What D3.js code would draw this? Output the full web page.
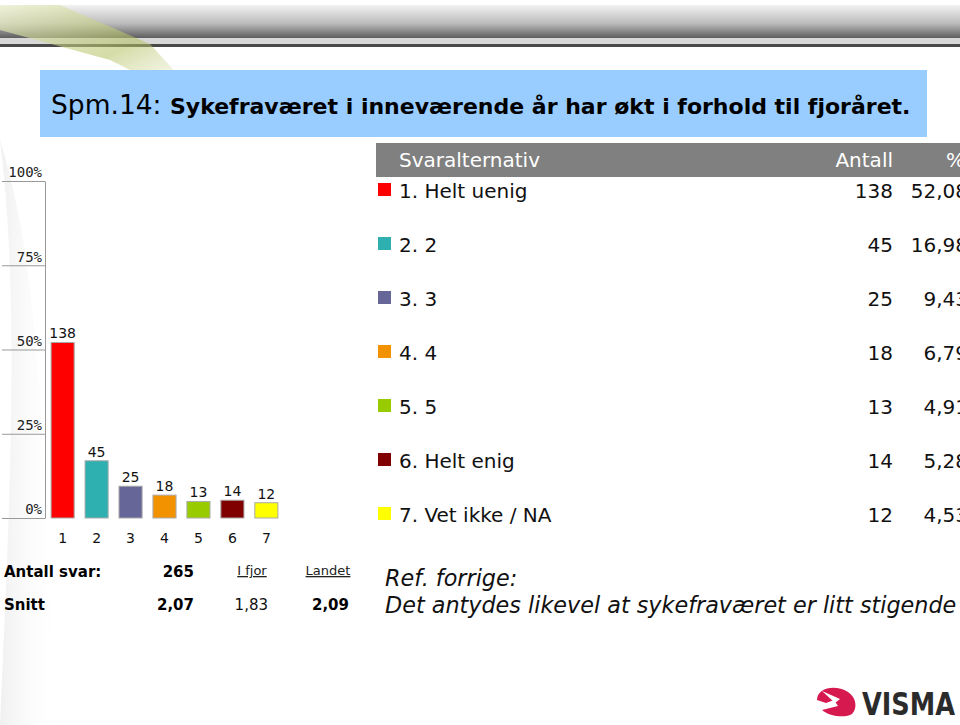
<!DOCTYPE html>
<html><head><meta charset="utf-8">
<script src="https://cdn.jsdelivr.net/npm/d3@7"></script>
<style>
html,body{margin:0;padding:0;background:#fff;}
svg{display:block;font-family:"DejaVu Sans",Verdana,sans-serif;}
</style></head>
<body>
<svg id="chart" width="960" height="725"></svg>
<script>
// ---- data ----
const xLabels = ["1","2","3","4","5","6","7"];
const categories = ["1. Helt uenig","2. 2","3. 3","4. 4","5. 5","6. Helt enig","7. Vet ikke / NA"];
const counts = [138,45,25,18,13,14,12];
const percents = [52.08,16.98,9.43,6.79,4.91,5.28,4.53];
const percentLabels = ["52,08","16,98","9,43","6,79","4,91","5,28","4,53"];
const colors = ["#ff0000","#2fb0b0","#666699","#f39200","#99cc00","#800000","#ffff00"];
const yTicks = [0,25,50,75,100];
const titlePrefix = "Spm.14: ";
const titleText = "Sykefraværet i inneværende år har økt i forhold til fjoråret.";
const summaryRows = [
  {label:"Antall svar:", value:"265", prev:"I fjor", land:"Landet", header:true},
  {label:"Snitt", value:"2,07", prev:"1,83", land:"2,09", header:false}
];
const refLines = ["Ref. forrige:", "Det antydes likevel at sykefraværet er litt stigende"];

const svg = d3.select("#chart");
const defs = svg.append("defs");

// ---- background swoosh (faint) ----
const sw = defs.append("linearGradient").attr("id","sw").attr("x1",0).attr("y1",0).attr("x2",1).attr("y2",0);
sw.append("stop").attr("offset","0%").attr("stop-color","#ececec").attr("stop-opacity",0.8);
sw.append("stop").attr("offset","100%").attr("stop-color","#ffffff").attr("stop-opacity",0);
svg.append("path").attr("d","M0,140 C20,300 10,500 0,725 L60,725 C40,520 50,300 0,140 Z").attr("fill","url(#sw)");

// ---- top banner ----
const bg = defs.append("linearGradient").attr("id","band").attr("x1",0).attr("y1",0).attr("x2",0).attr("y2",1);
bg.append("stop").attr("offset","0%").attr("stop-color","#f2f2f2");
bg.append("stop").attr("offset","55%").attr("stop-color","#bdbdbd");
bg.append("stop").attr("offset","100%").attr("stop-color","#5e5e5e");
svg.append("rect").attr("x",0).attr("y",5).attr("width",960).attr("height",33).attr("fill","url(#band)");
svg.append("rect").attr("x",0).attr("y",38).attr("width",960).attr("height",6).attr("fill","#d8d8d8");
svg.append("rect").attr("x",0).attr("y",44).attr("width",960).attr("height",3).attr("fill","#4a4a4a");
const gg = defs.append("linearGradient").attr("id","green").attr("x1",0).attr("y1",0).attr("x2",1).attr("y2",1);
gg.append("stop").attr("offset","0%").attr("stop-color","#eef2d0").attr("stop-opacity",0.7);
gg.append("stop").attr("offset","50%").attr("stop-color","#b4c060").attr("stop-opacity",0.55);
gg.append("stop").attr("offset","100%").attr("stop-color","#f4f6e6").attr("stop-opacity",0.0);
svg.append("path").attr("d","M0,5 L60,5 L150,44 L210,110 L110,60 L0,30 Z").attr("fill","url(#green)");

// ---- title box ----
svg.append("rect").attr("x",40).attr("y",70).attr("width",887).attr("height",67).attr("fill","#99ccff");
const title = svg.append("text").attr("x",51).attr("y",114).attr("fill","#000");
title.append("tspan").attr("font-size",26.5).text(titlePrefix);
title.append("tspan").attr("font-size",22).attr("font-weight","bold").text(titleText);

// ---- bar chart ----
const x = d3.scaleBand().domain(xLabels).range([46,283]).paddingInner(0.32).paddingOuter(0.15);
const y = d3.scaleLinear().domain([0,100]).range([518,181]);

const axis = d3.axisLeft(y).tickValues(yTicks).tickSize(43).tickSizeOuter(0).tickFormat(d => d + "%");
const ag = svg.append("g").attr("transform","translate(45,0)").call(axis);
ag.select(".domain").attr("stroke","#999");
ag.selectAll(".tick line").attr("stroke","#999");
ag.selectAll(".tick text").attr("x",-3).attr("dy","-0.3em").attr("text-anchor","end")
  .attr("font-family","'DejaVu Sans Mono',monospace").attr("font-size",14).attr("fill","#222");

const bars = svg.append("g");
bars.selectAll("rect").data(percents).join("rect")
  .attr("x",(d,i)=>x(xLabels[i]))
  .attr("y",d=>y(d))
  .attr("width",x.bandwidth())
  .attr("height",d=>y(0)-y(d))
  .attr("fill",(d,i)=>colors[i])
  .attr("stroke","#aaaaaa").attr("stroke-width",1);
bars.selectAll("text.val").data(percents).join("text").attr("class","val")
  .attr("x",(d,i)=>x(xLabels[i])+x.bandwidth()/2)
  .attr("y",d=>y(d)-4)
  .attr("text-anchor","middle").attr("font-size",14).attr("fill","#111")
  .text((d,i)=>counts[i]);
bars.selectAll("text.xl").data(xLabels).join("text").attr("class","xl")
  .attr("x",d=>x(d)+x.bandwidth()/2)
  .attr("y",543)
  .attr("text-anchor","middle").attr("font-size",14).attr("fill","#111")
  .text(d=>d);

// ---- table ----
svg.append("rect").attr("x",376).attr("y",143).attr("width",584).attr("height",34).attr("fill","#808080");
svg.append("text").attr("x",399).attr("y",167).attr("font-size",20).attr("fill","#fff").text("Svaralternativ");
svg.append("text").attr("x",893).attr("y",167).attr("font-size",20).attr("fill","#fff").attr("text-anchor","end").text("Antall");
svg.append("text").attr("x",946).attr("y",167).attr("font-size",20).attr("fill","#fff").text("%");

const rowY = d3.scalePoint().domain(categories).range([198,522]);
const rows = svg.append("g").selectAll("g").data(categories).join("g")
  .attr("transform",d=>`translate(0,${rowY(d)})`);
rows.append("rect").attr("x",378).attr("y",-15).attr("width",13).attr("height",13)
  .attr("fill",(d,i)=>colors[i]);
rows.append("text").attr("x",399).attr("y",0).attr("font-size",20).attr("fill","#111").text(d=>d);
rows.append("text").attr("x",893).attr("y",0).attr("font-size",20).attr("fill","#111").attr("text-anchor","end")
  .text((d,i)=>counts[i]);
rows.append("text").attr("x",968).attr("y",0).attr("font-size",20).attr("fill","#111").attr("text-anchor","end")
  .text((d,i)=>percentLabels[i]);

// ---- summary ----
const sumY = [577,610];
summaryRows.forEach((r,i)=>{
  const yy = sumY[i];
  svg.append("text").attr("x",4).attr("y",yy).attr("font-size",15).attr("font-weight","bold").attr("fill","#000").text(r.label);
  svg.append("text").attr("x",194).attr("y",yy).attr("font-size",15).attr("font-weight","bold").attr("text-anchor","end").attr("fill","#000").text(r.value);
  if (r.header) {
    svg.append("text").attr("x",252).attr("y",yy-2).attr("font-size",13).attr("text-anchor","middle").attr("text-decoration","underline").attr("fill","#222").text(r.prev);
    svg.append("text").attr("x",328).attr("y",yy-2).attr("font-size",13).attr("text-anchor","middle").attr("text-decoration","underline").attr("fill","#222").text(r.land);
  } else {
    svg.append("text").attr("x",268).attr("y",yy).attr("font-size",15).attr("text-anchor","end").attr("fill","#111").text(r.prev);
    svg.append("text").attr("x",349).attr("y",yy).attr("font-size",15).attr("font-weight","bold").attr("text-anchor","end").attr("fill","#000").text(r.land);
  }
});

svg.append("text").attr("x",385).attr("y",586).attr("font-size",22.3).attr("font-style","italic").attr("fill","#111").text(refLines[0]);
svg.append("text").attr("x",385).attr("y",613).attr("font-size",22.3).attr("font-style","italic").attr("fill","#111").text(refLines[1]);

// ---- logo ----
const logo = svg.append("g");
logo.append("path").attr("d","M817,700 C817,688 835,684 848,692 C856,697 858,708 852,714 C846,718 830,717 822,710 L838,706 L834,700 L826,703 Z").attr("fill","#d6194f");
logo.append("path").attr("d","M822,691 L840,699 L835,703 Z").attr("fill","#fff");
logo.append("text").attr("x",862).attr("y",715).attr("font-size",32).attr("font-weight","bold").attr("fill","#2b2b2b")
  .attr("textLength",93).attr("lengthAdjust","spacingAndGlyphs").text("VISMA");
</script>
</body></html>
